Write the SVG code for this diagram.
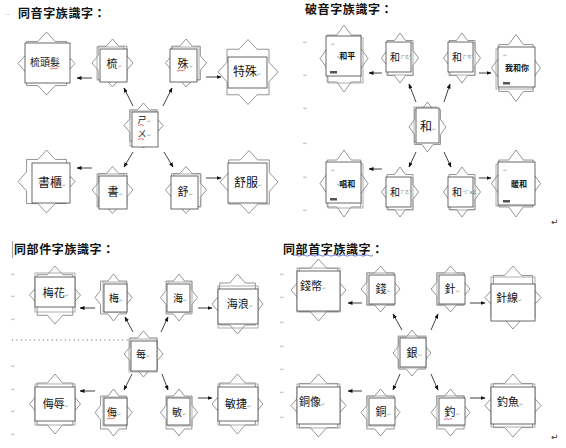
<svg xmlns="http://www.w3.org/2000/svg" width="566" height="448" viewBox="0 0 566 448">
<style>
.st{fill:#fff;stroke:#7a7a7a;stroke-width:0.8}
.bx{fill:#fff;stroke:#444;stroke-width:0.8}
.bk{fill:none;stroke:#999;stroke-width:0.8}
.t{font-family:"Noto Sans CJK TC","Noto Sans CJK SC",sans-serif;fill:#111;text-anchor:middle}
.ti{font-family:"Noto Sans CJK TC","Noto Sans CJK SC",sans-serif;fill:#111;font-weight:bold;font-size:12px;letter-spacing:0.6px}
.rm{font-family:"DejaVu Sans",sans-serif;fill:#aaa;font-size:5px}
.dt{font-family:"DejaVu Sans",sans-serif;fill:#666;font-size:6px}
.big{font-family:"DejaVu Sans",sans-serif;fill:#333;font-size:9px}
.zy{font-family:"Noto Sans CJK TC",sans-serif;fill:#333;font-size:4px}
.cn line{stroke:#111;stroke-width:0.8;marker-end:url(#ah)}
.sq{fill:none;stroke:#e03030;stroke-width:0.7}
.mk{fill:#555}
</style>
<defs>
<polygon id="star" vector-effect="non-scaling-stroke" points="0,-100 30,-70 70,-70 70,-30 100,0 70,30 70,70 30,70 0,100 -30,70 -70,70 -70,30 -100,0 -70,-30 -70,-70 -30,-70"/>
<marker id="ah" viewBox="0 0 10 8" refX="9" refY="4" markerWidth="5" markerHeight="4" orient="auto" markerUnits="userSpaceOnUse"><path d="M0,0 L10,4 L0,8 z" fill="#111"/></marker>
</defs>
<rect width="566" height="448" fill="#fff"/>

<g id="titles">
<text class="rm" x="5" y="17" style="fill:#999;font-size:7px">··</text>
<text class="ti" x="18" y="18">同音字族識字：</text>
<text class="ti" x="305" y="14">破音字族識字：</text>
<line x1="12.5" y1="241" x2="12.5" y2="258" stroke="#888" stroke-width="0.8"/>
<text class="ti" x="14" y="254">同部件字族識字：</text>
<text class="ti" x="283" y="254">同部首字族識字：</text>
<path d="M293,255.5 q2,-1.2 4,0 t4,0 t4,0 t4,0 t4,0 t4,0 t4,0 t4,0 t4,0 t4,0 t4,0 t4,0 t4,0 t4,0 t4,0 t4,0 t4,0 t4,0 t4,0 t4,0" fill="none" stroke="#4a5fd0" stroke-width="0.8"/>
<line x1="12" y1="340" x2="128" y2="340" stroke="#777" stroke-width="1" stroke-dasharray="1.2 3.2"/>
</g>
<g id="margins">
<text class="rm" x="303" y="44">↵</text><text class="rm" x="303" y="77">↵</text><text class="rm" x="303" y="110">↵</text><text class="rm" x="303" y="145">↵</text><text class="rm" x="303" y="179">↵</text><text class="rm" x="303" y="212">↵</text>
<text class="rm" x="11" y="276">↵</text><text class="rm" x="11" y="298">↵</text><text class="rm" x="11" y="321">↵</text><text class="rm" x="11" y="368">↵</text><text class="rm" x="11" y="391">↵</text><text class="rm" x="11" y="413">↵</text><text class="rm" x="11" y="436">↵</text>
<text class="rm" x="280" y="276">↵</text><text class="rm" x="280" y="299">↵</text><text class="rm" x="280" y="324">↵</text><text class="rm" x="280" y="348">↵</text><text class="rm" x="280" y="371">↵</text><text class="rm" x="280" y="394">↵</text><text class="rm" x="280" y="419">↵</text>
<text class="big" x="551" y="225">↵</text>
<text class="big" x="551" y="440">↵</text>
</g>

<g id="connectors" class="cn">
<line x1="92" y1="78" x2="77" y2="78"/>
<line x1="206" y1="77" x2="221" y2="77"/>
<line x1="133" y1="106" x2="124" y2="88"/>
<line x1="163" y1="106" x2="172" y2="88"/>
<line x1="133" y1="152" x2="124" y2="167"/>
<line x1="164" y1="152" x2="173" y2="167"/>
<line x1="92" y1="168" x2="77" y2="168"/>
<line x1="206" y1="178" x2="221" y2="178"/>

<line x1="382" y1="73" x2="369" y2="73"/>
<line x1="479" y1="73" x2="491" y2="73"/>
<line x1="416" y1="102" x2="409" y2="84"/>
<line x1="444" y1="102" x2="450" y2="84"/>
<line x1="416" y1="152" x2="409" y2="167"/>
<line x1="444" y1="152" x2="451" y2="167"/>
<line x1="382" y1="169" x2="369" y2="169"/>
<line x1="479" y1="178" x2="491" y2="178"/>

<line x1="95" y1="308" x2="80" y2="308"/>
<line x1="198" y1="308" x2="212" y2="308"/>
<line x1="133" y1="332" x2="125" y2="317"/>
<line x1="161" y1="332" x2="168" y2="317"/>
<line x1="132" y1="374" x2="124" y2="390"/>
<line x1="162" y1="374" x2="168" y2="390"/>
<line x1="95" y1="391" x2="80" y2="391"/>
<line x1="198" y1="398" x2="212" y2="398"/>

<line x1="362" y1="303" x2="348" y2="303"/>
<line x1="470" y1="303" x2="485" y2="303"/>
<line x1="402" y1="330" x2="393" y2="314"/>
<line x1="431" y1="330" x2="438" y2="314"/>
<line x1="400" y1="374" x2="393" y2="390"/>
<line x1="431" y1="374" x2="438" y2="390"/>
<line x1="362" y1="391" x2="348" y2="391"/>
<line x1="470" y1="398" x2="485" y2="398"/>
</g>

<g id="n-shutoufa"><use href="#star" class="st" transform="translate(46.5,63.5) scale(.285,.315)"/><rect class="bx" x="25" y="43" width="45" height="40"/><text class="t" x="45" y="66" font-size="10">梳頭髮</text><path class="sq" d="M50,68.5 q1,1 2,0 t2,0 t2,0 t2,0"/></g>
<g id="n-shu1"><use href="#star" class="st" transform="translate(112.5,63) scale(.205,.24)"/><rect class="bk" x="97" y="47" width="27" height="33"/><rect class="bx" x="100" y="49" width="27" height="33"/><text class="t" x="112" y="68" font-size="11">梳</text><text class="rm" x="118" y="68">↵</text></g>
<g id="n-shu2"><use href="#star" class="st" transform="translate(186,63) scale(.205,.24)"/><rect class="bk" x="172" y="47" width="27" height="33"/><rect class="bx" x="170" y="49" width="27" height="33"/><text class="t" x="183" y="68" font-size="11">殊</text><text class="rm" x="189" y="68">↵</text><path class="sq" d="M177,70.5 q1,1 2,0 t2,0 t2,0 t2,0"/></g>
<g id="n-teshu"><use href="#star" class="st" transform="translate(248,72) scale(.30,.325)"/><rect class="bx" x="228" y="57" width="39" height="31"/><text class="t" x="245" y="76" font-size="12">特殊</text><text class="rm" x="257" y="76">↵</text></g>
<g id="n-center1"><use href="#star" class="st" transform="translate(143.5,125.5) scale(.195,.225)"/><rect class="bk" x="130" y="111" width="26" height="35"/><rect class="bx" x="132" y="112" width="26" height="35"/><text class="t" x="142" y="123" font-size="9">ㄕ</text><text class="t" x="142" y="137" font-size="9">ㄨ</text><text class="rm" x="147" y="123">↵</text><text class="rm" x="147" y="137">↵</text><path class="sq" d="M138,125 q1,1 2,0 t2,0 t2,0"/><path class="sq" d="M138,139 q1,1 2,0 t2,0 t2,0"/></g>
<g id="n-shugui"><use href="#star" class="st" transform="translate(46.5,181.5) scale(.285,.315)"/><rect class="bx" x="32" y="163" width="38" height="40"/><text class="t" x="50" y="187" font-size="12">書櫃</text><text class="rm" x="62" y="187">↵</text></g>
<g id="n-shu3"><use href="#star" class="st" transform="translate(112.5,190) scale(.205,.235)"/><rect class="bk" x="97" y="174" width="27" height="33"/><rect class="bx" x="99" y="176" width="28" height="33"/><text class="t" x="113" y="196" font-size="11">書</text><text class="rm" x="119" y="196">↵</text></g>
<g id="n-shu4"><use href="#star" class="st" transform="translate(186,190) scale(.205,.235)"/><rect class="bk" x="174" y="174" width="27" height="33"/><rect class="bx" x="171" y="176" width="27" height="33"/><text class="t" x="183" y="196" font-size="11">舒</text><text class="rm" x="189" y="196">↵</text></g>
<g id="n-shufu"><use href="#star" class="st" transform="translate(249,182) scale(.29,.315)"/><rect class="bx" x="228" y="163" width="39" height="40"/><text class="t" x="246" y="187" font-size="12">舒服</text><text class="rm" x="258" y="187">↵</text></g>

<g id="n-heping"><use href="#star" class="st" transform="translate(344,58.5) scale(.24,.335)"/><rect class="bk" x="328" y="38" width="35" height="45"/><rect class="bx" x="326" y="36" width="35" height="40"/><text class="rm" x="331" y="46">↵</text><text class="t" x="346" y="59" font-size="8" font-weight="bold"><tspan class="dt">·</tspan>和平</text><rect class="mk" x="330" y="71" width="7" height="2.5"/></g>
<g id="n-he1"><use href="#star" class="st" transform="translate(400,58) scale(.185,.25)"/><rect class="bk" x="388" y="43" width="25" height="32"/><rect class="bx" x="386" y="42" width="25" height="30"/><text class="t" x="395" y="61" font-size="10">和</text><text class="zy" x="401" y="59">ㄏㄜˊ</text></g>
<g id="n-he2"><use href="#star" class="st" transform="translate(462,58) scale(.185,.25)"/><rect class="bk" x="450" y="43" width="25" height="32"/><rect class="bx" x="448" y="42" width="25" height="30"/><text class="t" x="457" y="61" font-size="10">和</text><text class="zy" x="463" y="59">ㄏㄢˋ</text></g>
<g id="n-wohenii"><use href="#star" class="st" transform="translate(516,68) scale(.245,.335)"/><rect class="bk" x="496" y="49" width="37" height="40"/><rect class="bx" x="498" y="47" width="37" height="40"/><text class="rm" x="503" y="57">↵</text><text class="t" x="517" y="71" font-size="8" font-weight="bold">我和你</text><rect class="mk" x="503" y="82" width="7" height="2.5"/></g>
<g id="n-center2"><use href="#star" class="st" transform="translate(427.5,127) scale(.185,.25)"/><rect class="bk" x="414" y="107" width="23" height="35"/><rect class="bx" x="416" y="108" width="23" height="35"/><text class="t" x="426" y="131" font-size="12">和</text><text class="rm" x="432" y="131">↵</text></g>
<g id="n-changhe"><use href="#star" class="st" transform="translate(344,183.5) scale(.24,.335)"/><rect class="bk" x="328" y="164" width="35" height="44"/><rect class="bx" x="326" y="162" width="35" height="41"/><text class="rm" x="331" y="172">↵</text><text class="t" x="346" y="187" font-size="8" font-weight="bold"><tspan class="dt">·</tspan>唱和</text><rect class="mk" x="330" y="198" width="7" height="2.5"/></g>
<g id="n-he3"><use href="#star" class="st" transform="translate(400,192) scale(.185,.25)"/><rect class="bk" x="388" y="178" width="25" height="32"/><rect class="bx" x="386" y="177" width="25" height="30"/><text class="t" x="395" y="196" font-size="10">和</text><text class="zy" x="401" y="194">ㄏㄜˋ</text></g>
<g id="n-he4"><use href="#star" class="st" transform="translate(462,192) scale(.185,.25)"/><rect class="bk" x="450" y="178" width="25" height="32"/><rect class="bx" x="448" y="177" width="25" height="30"/><text class="t" x="457" y="196" font-size="10">和</text><text class="zy" x="463" y="194">˙ㄏㄨㄛ</text></g>
<g id="n-nuanhe"><use href="#star" class="st" transform="translate(516,183.5) scale(.245,.335)"/><rect class="bk" x="496" y="164" width="37" height="42"/><rect class="bx" x="498" y="162" width="37" height="43"/><text class="rm" x="503" y="172">↵</text><text class="t" x="519" y="187" font-size="8" font-weight="bold">暖和</text><rect class="mk" x="503" y="200" width="7" height="2.5"/></g>

<g id="n-meihua"><use href="#star" class="st" transform="translate(55,295) scale(.255,.29)"/><rect class="bk" x="35" y="273" width="40" height="39"/><rect class="bx" x="35" y="277" width="40" height="30"/><text class="t" x="55" y="297" font-size="11"><tspan class="dt">·</tspan>梅花<tspan class="rm">↵</tspan></text></g>
<g id="n-mei1"><use href="#star" class="st" transform="translate(113.5,297.5) scale(.185,.235)"/><rect class="bk" x="103" y="282" width="24" height="30"/><rect class="bx" x="104" y="284" width="23" height="28"/><text class="t" x="114" y="302" font-size="10">梅</text><text class="rm" x="119" y="302">↵</text></g>
<g id="n-hai1"><use href="#star" class="st" transform="translate(179,297.5) scale(.185,.235)"/><rect class="bk" x="168" y="282" width="24" height="30"/><rect class="bx" x="167" y="284" width="23" height="28"/><text class="t" x="178" y="302" font-size="10">海</text><text class="rm" x="183" y="302">↵</text></g>
<g id="n-hailang"><use href="#star" class="st" transform="translate(237.5,304) scale(.255,.30)"/><rect class="bk" x="218" y="286" width="40" height="42"/><rect class="bx" x="218" y="289" width="40" height="35"/><text class="t" x="239" y="308" font-size="11"><tspan class="dt">·</tspan>海浪<tspan class="rm">↵</tspan></text></g>
<g id="n-center3"><use href="#star" class="st" transform="translate(143.5,354) scale(.195,.23)"/><rect class="bk" x="129" y="339" width="28" height="33"/><rect class="bx" x="131" y="341" width="26" height="30"/><text class="t" x="141" y="358" font-size="10">每</text><text class="rm" x="146" y="358">↵</text></g>
<g id="n-wuru"><use href="#star" class="st" transform="translate(55,404) scale(.255,.30)"/><rect class="bk" x="35" y="384" width="40" height="41"/><rect class="bx" x="35" y="387" width="40" height="34"/><text class="t" x="55" y="408" font-size="11"><tspan class="dt">·</tspan>侮辱<tspan class="rm">↵</tspan></text></g>
<g id="n-wu"><use href="#star" class="st" transform="translate(113.5,412.5) scale(.185,.235)"/><rect class="bk" x="103" y="397" width="24" height="29"/><rect class="bx" x="104" y="398" width="23" height="27"/><text class="t" x="112" y="416" font-size="10">侮</text><text class="rm" x="117" y="416">↵</text><path class="sq" d="M107,418.5 q1,1 2,0 t2,0 t2,0 t2,0"/></g>
<g id="n-min"><use href="#star" class="st" transform="translate(179,412.5) scale(.185,.235)"/><rect class="bk" x="168" y="397" width="24" height="29"/><rect class="bx" x="167" y="398" width="23" height="27"/><text class="t" x="177" y="416" font-size="10">敏</text><text class="rm" x="182" y="416">↵</text></g>
<g id="n-minjie"><use href="#star" class="st" transform="translate(237.5,404) scale(.255,.30)"/><rect class="bk" x="218" y="384" width="40" height="41"/><rect class="bx" x="218" y="387" width="40" height="34"/><text class="t" x="236" y="408" font-size="11">敏捷</text><text class="rm" x="247" y="408">↵</text></g>

<g id="n-qianbi"><use href="#star" class="st" transform="translate(318.5,290) scale(.275,.31)"/><rect class="bk" x="297" y="268" width="43" height="44"/><rect class="bx" x="297" y="271" width="43" height="40"/><text class="t" x="311" y="290" font-size="11">錢幣</text><text class="rm" x="322" y="290">↵</text></g>
<g id="n-qian"><use href="#star" class="st" transform="translate(380.5,289) scale(.195,.23)"/><rect class="bk" x="367" y="273" width="27" height="32"/><rect class="bx" x="369" y="275" width="26" height="29"/><text class="t" x="381" y="293" font-size="11">錢</text><text class="rm" x="387" y="293">↵</text></g>
<g id="n-zhen"><use href="#star" class="st" transform="translate(450.5,289) scale(.195,.23)"/><rect class="bk" x="437" y="273" width="27" height="32"/><rect class="bx" x="439" y="275" width="26" height="29"/><text class="t" x="450" y="293" font-size="11">針</text><text class="rm" x="456" y="293">↵</text></g>
<g id="n-zhenxian"><use href="#star" class="st" transform="translate(513,297.5) scale(.28,.315)"/><rect class="bk" x="491" y="277" width="44" height="41"/><rect class="bx" x="491" y="284" width="44" height="37"/><text class="t" x="507" y="302" font-size="11">針線</text><text class="rm" x="518" y="302">↵</text></g>
<g id="n-center4"><use href="#star" class="st" transform="translate(412,353) scale(.19,.23)"/><rect class="bk" x="398" y="336" width="28" height="32"/><rect class="bx" x="400" y="338" width="26" height="29"/><text class="t" x="412" y="357" font-size="11">銀</text><text class="rm" x="418" y="357">↵</text></g>
<g id="n-tongxiang"><use href="#star" class="st" transform="translate(318.5,405.5) scale(.275,.315)"/><rect class="bk" x="297" y="384" width="43" height="44"/><rect class="bx" x="297" y="387" width="43" height="37"/><text class="t" x="310" y="406" font-size="11">銅像</text><text class="rm" x="321" y="406">↵</text></g>
<g id="n-tong"><use href="#star" class="st" transform="translate(380.5,412.5) scale(.195,.235)"/><rect class="bk" x="367" y="396" width="27" height="30"/><rect class="bx" x="369" y="398" width="26" height="27"/><text class="t" x="381" y="416" font-size="11">銅</text><text class="rm" x="387" y="416">↵</text></g>
<g id="n-diao"><use href="#star" class="st" transform="translate(450.5,412.5) scale(.195,.235)"/><rect class="bk" x="437" y="396" width="27" height="30"/><rect class="bx" x="439" y="398" width="26" height="27"/><text class="t" x="450" y="416" font-size="11">釣</text><text class="rm" x="456" y="416">↵</text><path class="sq" d="M444,419 q1,1 2,0 t2,0 t2,0 t2,0"/></g>
<g id="n-diaoyu"><use href="#star" class="st" transform="translate(513,405.5) scale(.28,.315)"/><rect class="bk" x="491" y="384" width="44" height="43"/><rect class="bx" x="491" y="387" width="44" height="37"/><text class="t" x="508" y="406" font-size="11">釣魚</text><text class="rm" x="519" y="406">↵</text></g>
</svg>
